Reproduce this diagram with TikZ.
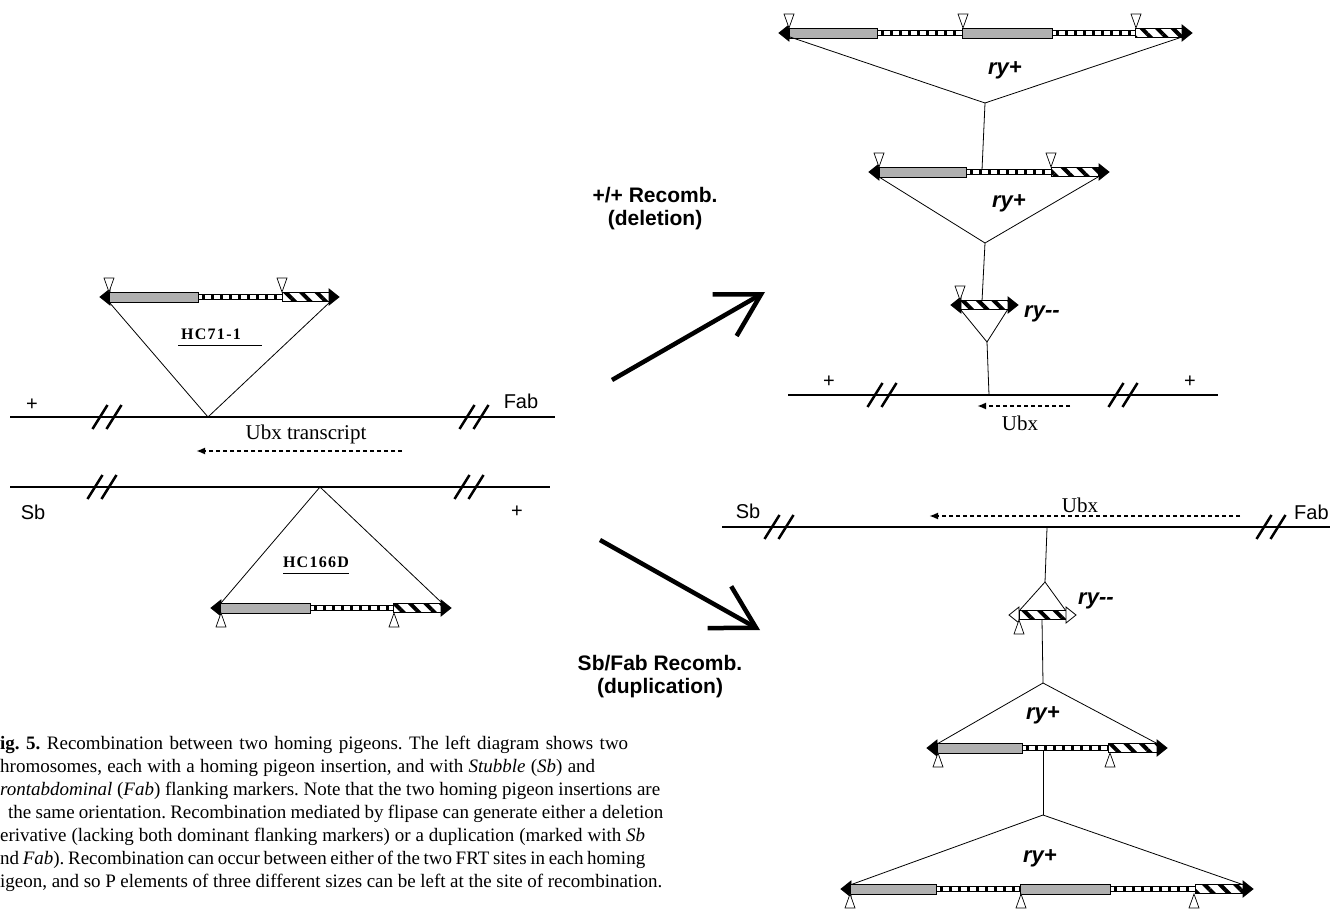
\documentclass[tikz,border=0pt]{standalone}
\usepackage{fontspec}
\setmainfont{Liberation Serif}
\setsansfont{Liberation Sans}
\usetikzlibrary{arrows.meta,patterns.meta}
\definecolor{bargray}{HTML}{B0B0B0}
\frenchspacing

% pieces of a P element (x in, x out, y)
\newcommand{\headL}[3][black]{\filldraw[fill=#1,line width=0.8pt] (#2,#3) -- ++(10,-8) -- ++(0,16) -- cycle;}
\newcommand{\headR}[3][black]{\filldraw[fill=#1,line width=0.8pt] (#2,#3) -- ++(-10,-8) -- ++(0,16) -- cycle;}
\newcommand{\graybar}[3]{\draw[fill=bargray,line width=0.8pt] (#1,#3-5) rectangle (#2,#3+5);}
\newcommand{\ladder}[3]{\draw[fill=white,line width=0.8pt] (#1,#3-2.5) rectangle (#2,#3+2.5);
  \draw[line width=4pt,dash pattern=on 2.5pt off 6.5pt] (#1+4,#3) -- (#2,#3);}
\newcommand{\hatchbar}[3]{\draw[line width=0.8pt,pattern={Lines[angle=-45,distance=11pt,line width=4pt]}] (#1,#3-4.5) rectangle (#2,#3+4.5);}
% FRT sites
\newcommand{\frtdn}[2]{\draw[fill=white,line width=0.7pt] (#1,#2) -- ++(-5,-14) -- ++(10,0) -- cycle;}
\newcommand{\frtup}[2]{\draw[fill=white,line width=0.7pt] (#1,#2) -- ++(-5,14) -- ++(10,0) -- cycle;}
% chromosome break
\newcommand{\chrbreak}[2]{\draw[line width=2.5pt] (#1-7.5,#2+12) -- ++(15,-24) (#1+6.5,#2+12) -- ++(15,-24);}
% one caption line, spread to a given width
\newcommand{\capline}[2]{\makebox[#1pt][s]{#2}}

\begin{document}
\begin{tikzpicture}[x=1pt, y=-1pt,
  chrom/.style={line width=2.8pt},
  link/.style={line width=0.8pt},
  recarrow/.style={line width=4.5pt, -{Straight Barb[length=42pt,width=48pt]}},
  ubxarrow/.style={line width=2.2pt, dash pattern=on 4pt off 3pt, -{Latex[length=9pt,width=7pt]}},
  lab/.style={inner sep=0pt, font=\sffamily\fontsize{20}{22}\selectfont},
  serlab/.style={inner sep=0pt, font=\fontsize{21}{23}\selectfont},
  reclab/.style={align=center, font=\sffamily\bfseries\fontsize{21}{23}\selectfont},
  rylab/.style={inner sep=0pt, font=\sffamily\bfseries\itshape\fontsize{22}{24}\selectfont},
  hclab/.style={inner sep=0pt, font=\bfseries\fontsize{16}{18}\selectfont\addfontfeature{LetterSpace=8}}]
  \useasboundingbox (0,0) rectangle (1330,909);
  \clip (0,0) rectangle (1330,909);

  % ---- left: the two chromosomes
  \draw[chrom] (10,417) -- (555,417);
  \chrbreak{100}{417} \chrbreak{467}{417}
  \node[lab] (plusA) at (32,405) {+};
  \node[lab] (fabA) at (521,401) {Fab};
  \node[serlab] (ubxT) at (306,434) {Ubx transcript};
  \coordinate (ubxS) at (402,451);
  \coordinate (ubxE) at (196,451);
  \draw[ubxarrow] (ubxS) -- (ubxE);

  \headL{100}{297} \graybar{109}{198}{297} \ladder{198}{282}{297}
  \hatchbar{282}{330}{297} \headR{339}{297}
  \frtdn{109}{292} \frtdn{282}{292}
  \coordinate (hcL) at (109,302);
  \coordinate (hcR) at (330,302);
  \coordinate (hcA) at (208,417);
  \draw[link] (hcL) -- (hcA) -- (hcR);
  \node[hclab] (hcA1) at (211,334) {HC71-1};
  \draw[line width=0.8pt] (178,345) -- (262,345);

  \draw[chrom] (10,487) -- (550,487);
  \chrbreak{95}{487} \chrbreak{462}{487}
  \node[lab] (sbA) at (33,512) {Sb};
  \node[lab] (plusB) at (517,512) {+};
  \coordinate (hdA) at (320,487);
  \coordinate (hdL) at (221,603);
  \coordinate (hdR) at (442,603);
  \draw[link] (hdL) -- (hdA) -- (hdR);
  \node[hclab] (hcB1) at (316,562) {HC166D};
  \draw[line width=0.8pt] (283,573) -- (349,573);
  \headL{211}{608} \graybar{220}{310}{608} \ladder{310}{393}{608}
  \hatchbar{393}{442}{608} \headR{451}{608}
  \frtup{221}{613} \frtup{394}{613}

  % ---- middle: the two recombinations
  \node[reclab] (delT) at (655,209) {+/+ Recomb.\\(deletion)};
  \coordinate (delS) at (612,380);
  \coordinate (delE) at (765,292);
  \draw[recarrow] (delS) -- (delE);
  \coordinate (dupS) at (600,540);
  \coordinate (dupE) at (760,630);
  \draw[recarrow] (dupS) -- (dupE);
  \node[reclab] (dupT) at (660,677) {Sb/Fab Recomb.\\(duplication)};

  % ---- top right: deletion
  \headL{779}{33} \graybar{789}{877}{33} \ladder{877}{962}{33}
  \graybar{962}{1052}{33} \ladder{1052}{1135}{33}
  \hatchbar{1135}{1182}{33} \headR{1192}{33}
  \frtdn{789}{28} \frtdn{963}{28} \frtdn{1136}{28}
  \coordinate (t1L) at (790,37);
  \coordinate (t1R) at (1182,37);
  \coordinate (t1A) at (985,103);
  \draw[link] (t1L) -- (t1A) -- (t1R);
  \node[rylab] (ryA) at (1005,70) {ry+};
  \coordinate (t2T) at (982,170);
  \draw[link] (t1A) -- (t2T);

  \headL{869}{172} \graybar{879}{966}{172} \ladder{966}{1051}{172}
  \hatchbar{1051}{1098}{172} \headR{1109}{172}
  \frtdn{879}{167} \frtdn{1051}{167}
  \coordinate (t2L) at (879,177);
  \coordinate (t2R) at (1098,177);
  \coordinate (t2A) at (985,243);
  \draw[link] (t2L) -- (t2A) -- (t2R);
  \node[rylab] (ryB) at (1009,203) {ry+};
  \coordinate (t3T) at (982,301);
  \draw[link] (t2A) -- (t3T);

  \headL{951}{305} \hatchbar{960}{1008}{305} \headR{1018}{305}
  \frtdn{960}{300}
  \coordinate (t3L) at (960,309);
  \coordinate (t3R) at (1008,309);
  \coordinate (t3A) at (987,342);
  \draw[link] (t3L) -- (t3A) -- (t3R);
  \node[rylab, anchor=west] (ryC) at (1024,314) {ry-{}-};
  \coordinate (tchr) at (989,395);
  \draw[link] (t3A) -- (tchr);

  \draw[chrom] (788,395) -- (1218,395);
  \chrbreak{875}{395} \chrbreak{1116}{395}
  \node[lab] (plusC) at (829,382) {+};
  \node[lab] (plusD) at (1190,382) {+};
  \coordinate (ubxS2) at (1070,406);
  \coordinate (ubxE2) at (977,406);
  \draw[ubxarrow] (ubxS2) -- (ubxE2);
  \node[serlab] (ubxB) at (1020,423) {Ubx};

  % ---- bottom right: duplication
  \draw[chrom] (722,527) -- (1330,527);
  \chrbreak{772}{527} \chrbreak{1264}{527}
  \node[lab] (sbB) at (748,511) {Sb};
  \node[lab, anchor=west] (fabB) at (1294,512) {Fab};
  \node[serlab] (ubxC) at (1080,505) {Ubx};
  \coordinate (ubxS3) at (1240,516);
  \coordinate (ubxE3) at (929,516);
  \draw[ubxarrow] (ubxS3) -- (ubxE3);
  \coordinate (bchr) at (1047,528);
  \coordinate (b4A) at (1045,582);
  \draw[link] (bchr) -- (b4A);

  \coordinate (b4L) at (1019,611);
  \coordinate (b4R) at (1066,611);
  \draw[link] (b4L) -- (b4A) -- (b4R);
  \headL[white]{1009}{615} \hatchbar{1019}{1066}{615} \headR[white]{1076}{615}
  \frtup{1019}{620}
  \node[rylab, anchor=west] (ryD) at (1078,601) {ry-{}-};
  \coordinate (b4B) at (1042,620);
  \coordinate (b5A) at (1043,683);
  \draw[link] (b4B) -- (b5A);

  \coordinate (b5L) at (937,744);
  \coordinate (b5R) at (1158,744);
  \draw[link] (b5L) -- (b5A) -- (b5R);
  \node[rylab] (ryE) at (1043,715) {ry+};
  \headL{927}{748} \graybar{937}{1022}{748} \ladder{1022}{1108}{748}
  \hatchbar{1108}{1158}{748} \headR{1167}{748}
  \frtup{938}{753} \frtup{1110}{753}
  \coordinate (b5B) at (1043,751);
  \coordinate (b6A) at (1043,815);
  \draw[link] (b5B) -- (b6A);

  \coordinate (b6L) at (850,885);
  \coordinate (b6R) at (1244,885);
  \draw[link] (b6L) -- (b6A) -- (b6R);
  \node[rylab] (ryF) at (1040,858) {ry+};
  \headL{841}{889} \graybar{850}{936}{889} \ladder{936}{1019}{889}
  \graybar{1020}{1110}{889} \ladder{1110}{1195}{889}
  \hatchbar{1195}{1244}{889} \headR{1253}{889}
  \frtup{850}{894} \frtup{1021}{894} \frtup{1194}{894}

  % ---- caption
  \node[anchor=north west, align=left, inner sep=0pt,
        font=\fontsize{19}{23}\selectfont] (caption) at (0,736)
  {\capline{628}{\textbf{ig. 5.} Recombination between two homing pigeons. The left diagram shows two}\\
   \capline{595}{hromosomes, each with a homing pigeon insertion, and with \textit{Stubble} (\textit{Sb}) and}\\
   \capline{660}{\textit{rontabdominal} (\textit{Fab}) flanking markers. Note that the two homing pigeon insertions are}\\
   \hspace*{8pt}\capline{655}{the same orientation. Recombination mediated by flipase can generate either a deletion}\\
   \capline{645}{erivative (lacking both dominant flanking markers) or a duplication (marked with \textit{Sb}}\\
   \capline{645}{nd \textit{Fab}). Recombination can occur between either of the two FRT sites in each homing}\\
   \capline{662}{igeon, and so P elements of three different sizes can be left at the site of recombination.}};
\end{tikzpicture}
\end{document}
